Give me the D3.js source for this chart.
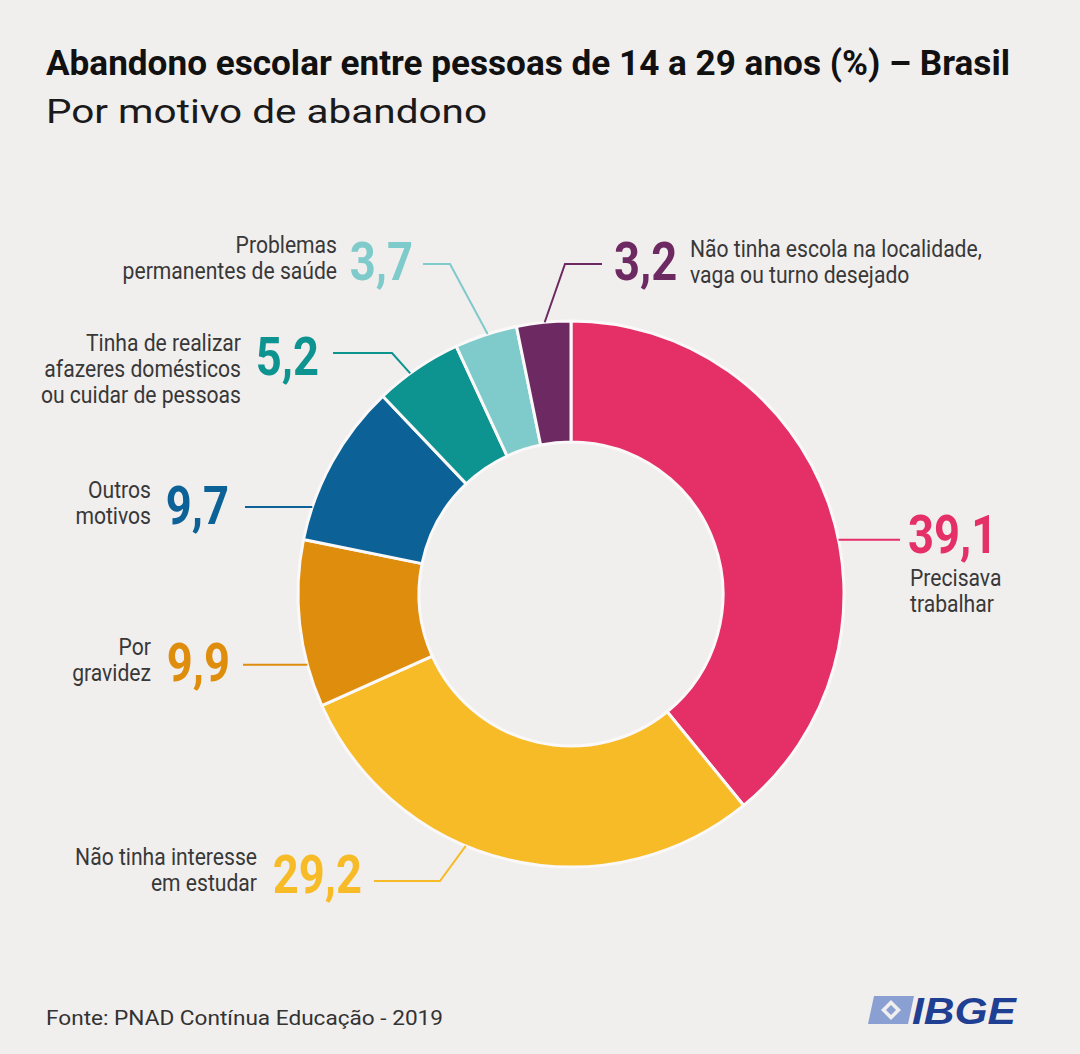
<!DOCTYPE html>
<html>
<head>
<meta charset="utf-8">
<script src="https://cdn.jsdelivr.net/npm/d3@7"></script>
<style>
  html, body { margin: 0; padding: 0; background: #f1eeee; }
  svg { display: block; }
</style>
</head>
<body>
<svg id="chart" width="1080" height="1054"></svg>
<script>
// ---- data ----
const categories = [
  "Precisava trabalhar",
  "Não tinha interesse em estudar",
  "Por gravidez",
  "Outros motivos",
  "Tinha de realizar afazeres domésticos ou cuidar de pessoas",
  "Problemas permanentes de saúde",
  "Não tinha escola na localidade, vaga ou turno desejado"
];
const values = [39.1, 29.2, 9.9, 9.7, 5.2, 3.7, 3.2];
const valueLabels = ["39,1", "29,2", "9,9", "9,7", "5,2", "3,7", "3,2"];
const labelLines = [
  ["Precisava", "trabalhar"],
  ["Não tinha interesse", "em estudar"],
  ["Por", "gravidez"],
  ["Outros", "motivos"],
  ["Tinha de realizar", "afazeres domésticos", "ou cuidar de pessoas"],
  ["Problemas", "permanentes de saúde"],
  ["Não tinha escola na localidade,", "vaga ou turno desejado"]
];
const colors = ["#e52f67", "#f6bb26", "#df8d0c", "#0c6296", "#0e9490", "#7fcaca", "#6d2a62"];
const titleText = "Abandono escolar entre pessoas de 14 a 29 anos (%) – Brasil";
const subtitleText = "Por motivo de abandono";
const sourceText = "Fonte:  PNAD Contínua Educação - 2019";

// ---- layout (positions, not data) ----
const cx = 571, cy = 594, rOuter = 273, rInner = 152;
const font = "Roboto, 'Liberation Sans', sans-serif";
const numScale = 0.84, labScale = 0.88;
const layout = [
  { frac: 0.558, elbow: null, endX: 900, num: [908, 553, "start"], lab: [910, 586, "start"] },
  { frac: 0.589, elbow: [440, 881], endX: 374, num: [362, 893, "end"], lab: [257, 865, "end"] },
  { frac: 0.256, elbow: null, endX: 243, num: [230, 681, "end"], lab: [151, 655, "end"] },
  { frac: 0.203, elbow: null, endX: 245, num: [229, 524, "end"], lab: [151, 498, "end"] },
  { frac: 0.40, elbow: [392, 353], endX: 333, num: [319, 375, "end"], lab: [241, 351, "end"] },
  { frac: 0.53, elbow: [450, 264], endX: 423, num: [413, 280, "end"], lab: [337, 253, "end"] },
  { frac: 0.52, elbow: [565, 264], endX: 602, num: [614, 280, "start"], lab: [690, 257, "start"] }
];

const svg = d3.select("#chart");
svg.append("rect").attr("width", 1080).attr("height", 1054).attr("fill", "#f1eeee");

// title
svg.append("text").attr("x", 46).attr("y", 75)
  .attr("font-family", font).attr("font-weight", 700).attr("font-size", 35)
  .attr("fill", "#111").attr("textLength", 964).attr("lengthAdjust", "spacingAndGlyphs")
  .text(titleText);
svg.append("text").attr("x", 46).attr("y", 123)
  .attr("font-family", font).attr("font-weight", 400).attr("font-size", 33)
  .attr("fill", "#1a1a1a").attr("textLength", 441).attr("lengthAdjust", "spacingAndGlyphs")
  .text(subtitleText);

// donut
const pie = d3.pie().sort(null).value(d => d)(values);
const arc = d3.arc().innerRadius(rInner).outerRadius(rOuter);
const g = svg.append("g").attr("transform", `translate(${cx},${cy})`);
g.selectAll("path.slice").data(pie).join("path")
  .attr("class", "slice")
  .attr("d", arc)
  .attr("fill", (d, i) => colors[i])
  .attr("stroke", "#faf8f8")
  .attr("stroke-width", 3)
  .attr("stroke-linejoin", "round");

// leaders and labels
pie.forEach((d, i) => {
  const L = layout[i];
  const a = d.startAngle + L.frac * (d.endAngle - d.startAngle);
  const p0 = [cx + rOuter * Math.sin(a), cy - rOuter * Math.cos(a)];
  const pts = L.elbow ? [p0, L.elbow, [L.endX, L.elbow[1]]] : [p0, [L.endX, p0[1]]];
  svg.append("path")
    .attr("d", d3.line()(pts))
    .attr("fill", "none").attr("stroke", colors[i]).attr("stroke-width", 2);

  svg.append("g").attr("transform", `translate(${L.num[0]},${L.num[1]}) scale(${numScale},1)`)
    .append("text")
    .attr("text-anchor", L.num[2])
    .attr("font-family", font).attr("font-weight", 700).attr("font-size", 54)
    .attr("fill", colors[i])
    .text(valueLabels[i]);

  const t = svg.append("g").attr("transform", `translate(${L.lab[0]},${L.lab[1]}) scale(${labScale},1)`)
    .append("text")
    .attr("text-anchor", L.lab[2])
    .attr("font-family", font).attr("font-size", 24).attr("fill", "#383838");
  labelLines[i].forEach((line, j) => {
    t.append("tspan").attr("x", 0).attr("y", j * 26).text(line);
  });
});

// footer
svg.append("text").attr("x", 46).attr("y", 1025)
  .attr("font-family", font).attr("font-size", 21).attr("fill", "#333")
  .attr("textLength", 397).attr("lengthAdjust", "spacingAndGlyphs")
  .text(sourceText);

// IBGE logo
const logo = svg.append("g").attr("transform", "translate(868,996)");
logo.append("path").attr("d", "M6,0 L46,0 L40,28 L0,28 Z").attr("fill", "#8a9fd2");
logo.append("path").attr("d", "M23,4 L33,14 L23,24 L13,14 Z").attr("fill", "#f1eeee");
logo.append("path").attr("d", "M23,9 L28,14 L23,19 L18,14 Z").attr("fill", "#8a9fd2");
logo.append("text").attr("x", 44).attr("y", 28)
  .attr("font-family", "'Liberation Sans', Arial, sans-serif").attr("font-weight", 700)
  .attr("font-style", "italic").attr("font-size", 37).attr("fill", "#1f3f93")
  .attr("textLength", 104).attr("lengthAdjust", "spacingAndGlyphs")
  .text("IBGE");
</script>
</body>
</html>
